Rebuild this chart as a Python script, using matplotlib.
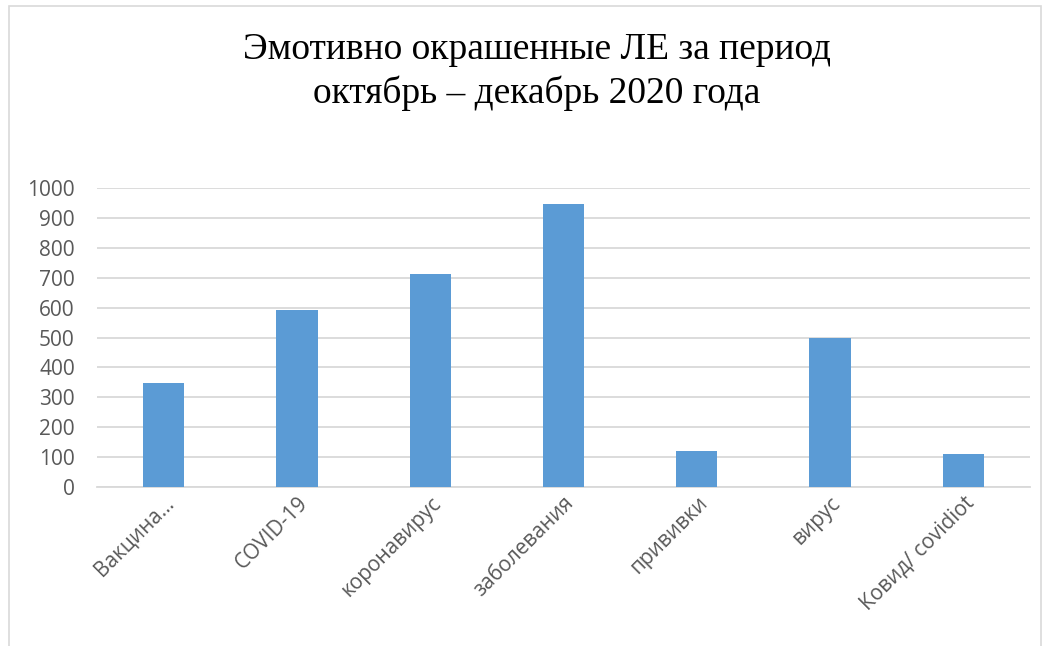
import matplotlib
matplotlib.use("Agg")
import matplotlib.pyplot as plt
from matplotlib.patches import Rectangle

# data
categories = ["Вакцина...", "COVID-19", "коронавирус", "заболевания",
              "прививки", "вирус", "Ковид/ covidiot"]
values = [348, 591, 714, 947, 121, 500, 109]
yticks = [0, 100, 200, 300, 400, 500, 600, 700, 800, 900, 1000]
title = "Эмотивно окрашенные ЛЕ за период\nоктябрь – декабрь 2020 года"

bar_color = "#5B9BD5"
grid_color = "#D9D9D9"
text_color = "#595959"

fig = plt.figure(figsize=(10.59, 6.46), dpi=100)
ax = fig.add_axes([0.0916, 0.246, 0.881, 0.463])

# outer chart frame
fig.patches.append(Rectangle((9 / 1059, -0.1), (1041 - 9) / 1059, 1.1 - 6 / 646,
                             transform=fig.transFigure, fill=False,
                             edgecolor="#D9D9D9", linewidth=1.2))

x = range(len(categories))
ax.bar(x, values, width=0.31, color=bar_color, zorder=3)

ax.set_xlim(-0.5, len(categories) - 0.5)
ax.set_ylim(0, 1000)
ax.set_yticks(yticks)
ax.set_yticklabels([str(v) for v in yticks], fontfamily="Open Sans",
                   fontsize=15, color=text_color)
ax.set_xticks(list(x))
# anchoring at the top-right corner pushes the rotated text a bit to the right
ax.set_xticklabels(categories, rotation=45, ha="right", va="top",
                   rotation_mode="anchor", fontfamily="Open Sans",
                   fontsize=15, color=text_color)

ax.yaxis.grid(True, color=grid_color, linewidth=1.3, zorder=0)
ax.tick_params(axis="both", length=0)
ax.tick_params(axis="y", pad=16)
ax.tick_params(axis="x", pad=4)
for side in ["top", "right", "left"]:
    ax.spines[side].set_visible(False)
ax.spines["bottom"].set_color(grid_color)
ax.spines["bottom"].set_linewidth(1.3)

fig.text(0.507, 0.949, title, ha="center", va="top", fontfamily="Liberation Serif",
         fontsize=27, color="black", linespacing=1.3)

fig.savefig("out.png", dpi=100, facecolor="white")
